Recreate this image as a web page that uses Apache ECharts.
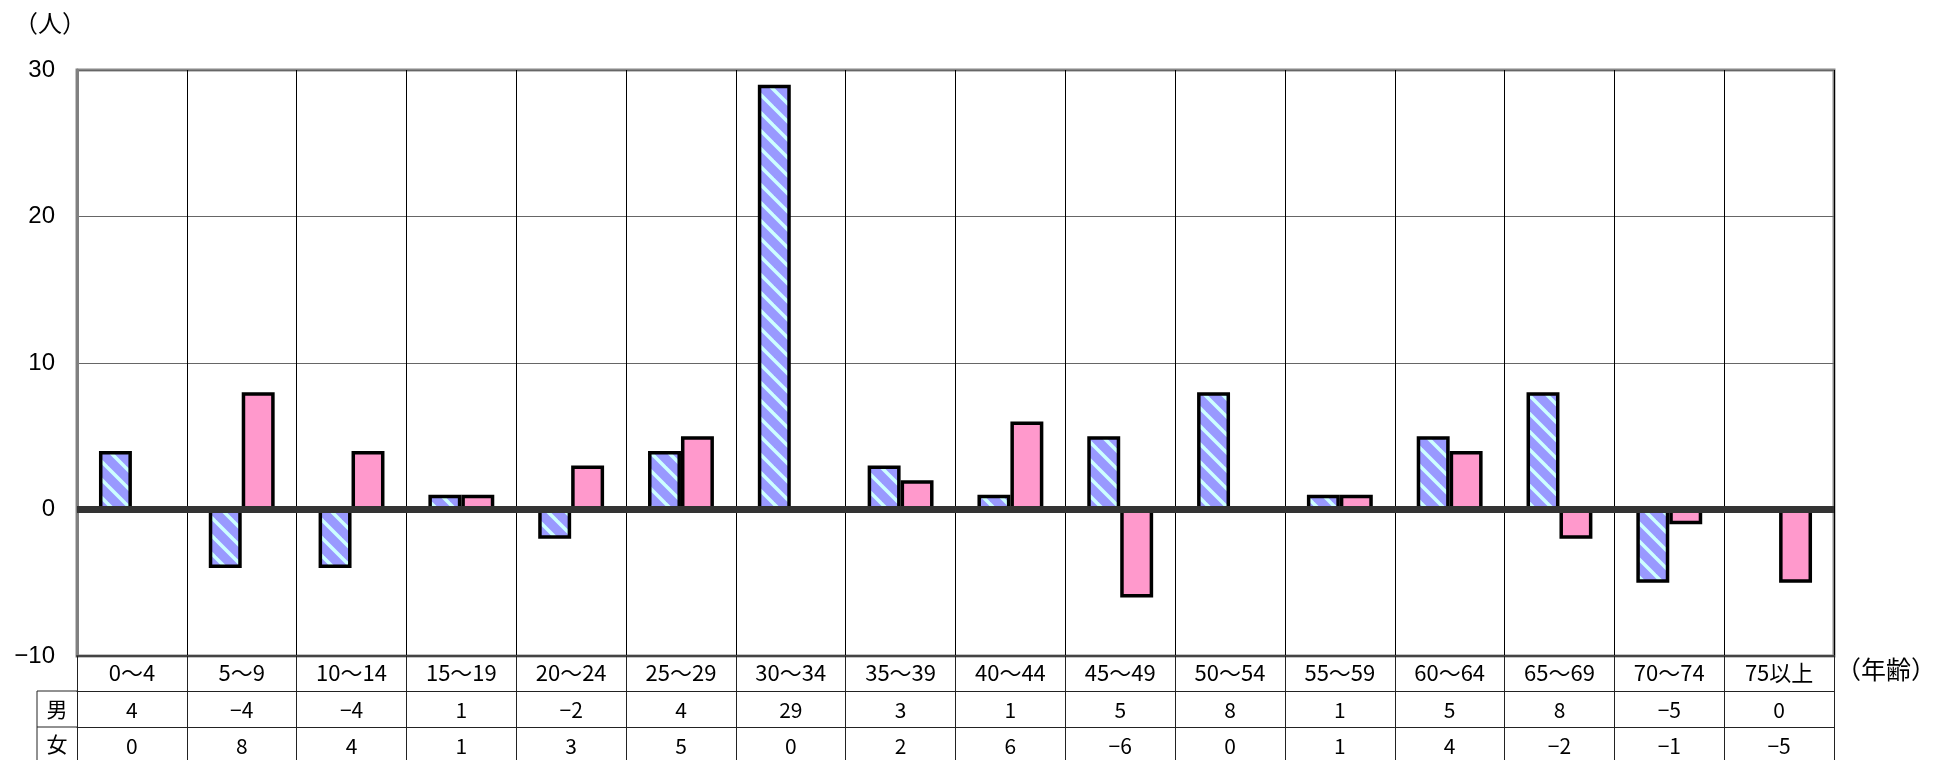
<!DOCTYPE html>
<html>
<head>
<meta charset="utf-8">
<script src="https://cdn.jsdelivr.net/npm/echarts@6/dist/echarts.min.js"></script>
<style>
html,body{margin:0;padding:0;background:#fff;}
#chart{width:1934px;height:760px;}
</style>
</head>
<body>
<div id="chart"></div>
<script>
const categories = ['0～4','5～9','10～14','15～19','20～24','25～29','30～34','35～39','40～44','45～49','50～54','55～59','60～64','65～69','70～74','75以上'];
const male = [4,-4,-4,1,-2,4,29,3,1,5,8,1,5,8,-5,0];
const female = [0,8,4,1,3,5,0,2,6,-6,0,1,4,-2,-1,-5];
const yTicks = {min:-10, max:30, interval:10};
const seriesNames = ['男','女'];

const fmt = v => String(v).replace('-', '\u2212');

// striped pattern for 男
const T = 18;
const pc = document.createElement('canvas');
pc.width = T; pc.height = T;
const pctx = pc.getContext('2d');
pctx.fillStyle = '#9999ff';
pctx.fillRect(0,0,T,T);
pctx.strokeStyle = '#ccffff';
pctx.lineWidth = 3.5;
for (const k of [-1,0,1]) {
  pctx.beginPath();
  pctx.moveTo(k*T - 4, -4);
  pctx.lineTo(k*T + T + 4, T + 4);
  pctx.stroke();
}

const JP = '"Noto Sans CJK JP", sans-serif';
const NARROW = '"Liberation Sans Narrow", "Noto Sans CJK JP", sans-serif';
const chart = echarts.init(document.getElementById('chart'));
const tableAxis = (vals, offset) => ({
  type:'category', data:categories, position:'bottom', offset:offset,
  axisLine:{show:true, onZero:false, lineStyle:{color:'#222', width:1}},
  axisTick:{show:true, length:36, interval:0, lineStyle:{color:'#222', width:1}},
  axisLabel:{interval:0, margin:9, fontSize:21, color:'#000', fontFamily:NARROW,
    formatter:(v,i)=>fmt(vals[i])},
  splitLine:{show:false}
});

chart.setOption({
  animation:false,
  backgroundColor:'#fff',
  grid:{left:77, right:100, top:70, bottom:104, show:true, borderColor:'#888', borderWidth:3},
  xAxis:[
    {type:'category', data:categories, position:'bottom',
     axisLine:{show:true, onZero:false, lineStyle:{color:'#444', width:2}},
     axisTick:{show:true, length:35, interval:0, lineStyle:{color:'#222', width:1}},
     axisLabel:{interval:0, margin:6, fontSize:22, color:'#000', fontFamily:JP},
     splitLine:{show:true, interval:0, lineStyle:{color:'#000', width:1}}},
    tableAxis(male, 35),
    tableAxis(female, 71)
  ],
  yAxis:{
    type:'value', min:yTicks.min, max:yTicks.max, interval:yTicks.interval,
    axisLine:{show:true, onZero:false, lineStyle:{color:'#808080', width:3}},
    axisTick:{show:false},
    axisLabel:{fontSize:24, color:'#000', margin:22, fontFamily:'"Liberation Sans", Arial, sans-serif', formatter:v=>fmt(v)},
    splitLine:{show:true, lineStyle:{color:'#666', width:1}}
  },
  series:[
    {name:seriesNames[0], type:'bar', data:male, barGap:'0%', barCategoryGap:'40%',
     itemStyle:{color:{image:pc, repeat:'repeat'}, borderColor:'#000', borderWidth:3.5},
     markLine:{silent:true, symbol:['none','none'], label:{show:false},
       lineStyle:{color:'#333', width:7, type:'solid'}, data:[{yAxis:0}], z:10}},
    {name:seriesNames[1], type:'bar', data:female, barGap:'0%', barCategoryGap:'40%',
     itemStyle:{color:'#ff99cc', borderColor:'#000', borderWidth:3.5}}
  ],
  graphic:[
    {type:'text', left:14, top:11, style:{text:'（人）', fontSize:24, fontFamily:JP, fill:'#000'}},
    {type:'text', left:1836, top:657, style:{text:'（年齢）', fontSize:25, fontFamily:JP, fill:'#000'}},
    {type:'line', shape:{x1:37, y1:691, x2:77, y2:691}, style:{stroke:'#222', lineWidth:1}},
    {type:'line', shape:{x1:37, y1:727, x2:77, y2:727}, style:{stroke:'#222', lineWidth:1}},
    {type:'line', shape:{x1:37, y1:691, x2:37, y2:760}, style:{stroke:'#222', lineWidth:1}},
    {type:'text', x:57, y:709, style:{text:seriesNames[0], fontSize:21, fontFamily:JP, fill:'#000', align:'center', verticalAlign:'middle'}},
    {type:'text', x:57, y:744, style:{text:seriesNames[1], fontSize:21, fontFamily:JP, fill:'#000', align:'center', verticalAlign:'middle'}}
  ]
});
</script>
</body>
</html>
